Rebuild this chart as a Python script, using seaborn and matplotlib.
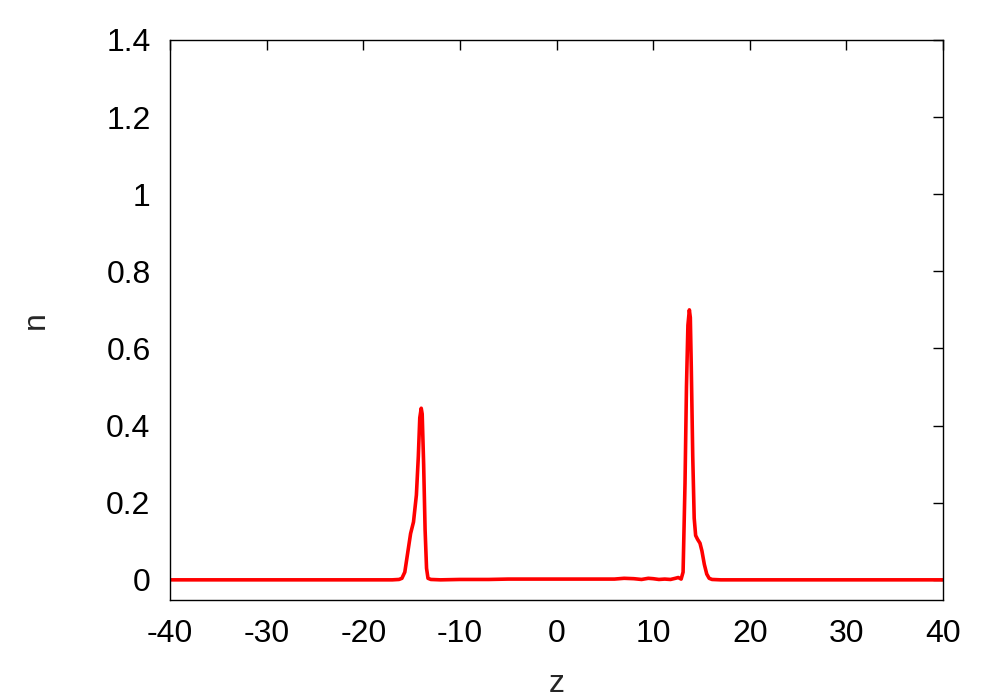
import matplotlib
matplotlib.use("Agg")
import matplotlib.pyplot as plt
import seaborn as sns
import pandas as pd

z = [-40, -30, -20, -17, -16.3, -16.0, -15.7, -15.4, -15.1, -14.8, -14.5, -14.3, -14.15, -14.0, -13.9,
     -13.75, -13.6, -13.45, -13.3, -13.0, -12, -10, -7, -5, -2, 0, 3, 5, 6, 7, 8, 8.8, 9.5, 10, 10.6,
     11.2, 11.8, 12.3, 12.6, 12.9, 13.1, 13.3, 13.45, 13.6, 13.75, 13.85, 13.95, 14.1, 14.25, 14.4,
     14.6, 14.85, 15.05, 15.3, 15.55, 15.8, 16.1, 17, 20, 30, 40]
n = [0, 0, 0, 0, 0.001, 0.004, 0.02, 0.07, 0.12, 0.15, 0.22, 0.32, 0.42, 0.445, 0.43,
     0.30, 0.13, 0.03, 0.004, 0.001, 0.0, 0.001, 0.001, 0.002, 0.002, 0.002, 0.002, 0.002, 0.002, 0.004, 0.003, 0.001, 0.004, 0.003, 0.001,
     0.002, 0.001, 0.004, 0.006, 0.002, 0.02, 0.25, 0.5, 0.66, 0.70, 0.68, 0.55, 0.32, 0.16, 0.115,
     0.105, 0.095, 0.075, 0.04, 0.015, 0.004, 0.001, 0, 0, 0, 0]

xticks = [-40, -30, -20, -10, 0, 10, 20, 30, 40]
yticks = [0, 0.2, 0.4, 0.6, 0.8, 1.0, 1.2, 1.4]
ytick_labels = ["0", "0.2", "0.4", "0.6", "0.8", "1", "1.2", "1.4"]

df = pd.DataFrame({"z": z, "n": n})

sns.set_style("white")
plt.rcParams['font.family'] = ['Liberation Sans', 'DejaVu Sans']

fig = plt.figure(figsize=(10, 7), dpi=100)
ax = fig.add_axes([0.17, 0.143, 0.773, 0.8])
sns.lineplot(data=df, x="z", y="n", color="#ff0000", linewidth=2.6, ax=ax)
ax.set_xlim(-40, 40)
ax.set_ylim(-0.052, 1.4)
ax.set_xticks(xticks)
ax.set_xticklabels([str(t) for t in xticks])
ax.set_yticks(yticks)
ax.set_yticklabels(ytick_labels)
ax.tick_params(direction="in", length=7, width=1, top=True, right=True, labelsize=23, colors="black")
ax.tick_params(axis="y", pad=14)
ax.tick_params(axis="x", pad=14)
for s in ax.spines.values():
    s.set_color("black")
    s.set_linewidth(1)
ax.set_xlabel("z", fontsize=23, labelpad=14)
ax.set_ylabel("n", fontsize=23, labelpad=40)
fig.savefig("out.png", dpi=100)
